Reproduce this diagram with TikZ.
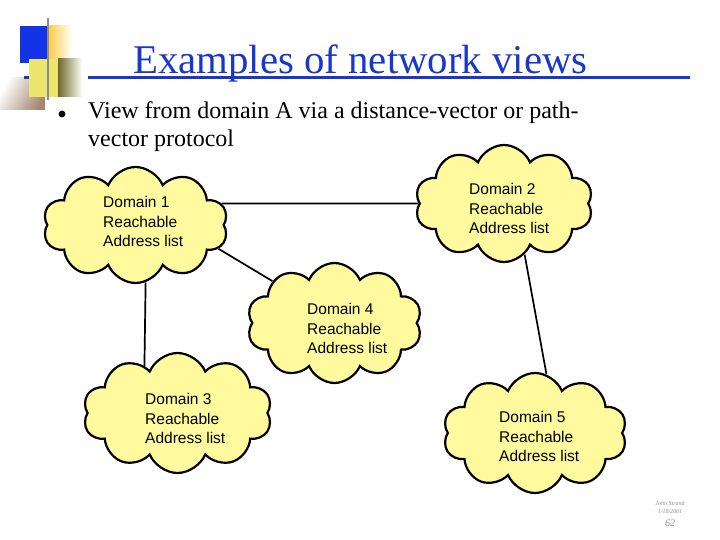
\documentclass[tikz,border=0pt]{standalone}
\usepackage{fontspec}
\setmainfont{Liberation Serif}
\newfontfamily\arialf{Liberation Sans}
\usetikzlibrary{shapes.symbols}
\definecolor{cloudfill}{RGB}{255,250,158}
\definecolor{titleblue}{RGB}{25,55,205}
\definecolor{decoblue}{RGB}{20,50,230}
\definecolor{decoyellow}{RGB}{235,230,110}
\definecolor{decoorange}{RGB}{255,200,60}
\definecolor{decoolive}{RGB}{110,105,40}
\definecolor{decobrown}{RGB}{165,135,115}
\pgfdeclarelayer{bg}
\pgfsetlayers{bg,main}
\begin{document}
\begin{tikzpicture}[x=1pt,y=-1pt,
  domaincloud/.style={cloud, cloud puffs=10, cloud puff arc=135, cloud ignores aspect,
    draw=black, line width=2.2pt, fill=cloudfill, inner sep=0pt},
  cloudtext/.style={anchor=base west, inner sep=0pt, align=left,
    font=\arialf\fontsize{15.5}{19.5}\selectfont},
  link/.style={draw=black, line width=1.7pt},
  bodytext/.style={anchor=base west, inner sep=0pt, font=\fontsize{24}{28}\selectfont},
  foot/.style={inner sep=0pt, text=black!45, font=\itshape\fontsize{6}{7}\selectfont}]
\useasboundingbox (0,0) rectangle (720,540);

% decoration
\shade[left color=white, right color=decobrown, shading angle=60] (0,78) rectangle (45,110);
\fill[decoblue] (20,26) rectangle (47,63);
\shade[left color=decoorange, right color=white] (47,26) rectangle (72,60);
\fill[decoyellow] (29,59) rectangle (58,97);
\shade[left color=decoolive, right color=white] (58,59) rectangle (82,97);
\fill[titleblue] (24,76) rectangle (29,79);
\draw[black!45, line width=1.6pt] (48,18) -- (48,100);

% title
\node[anchor=base west, inner sep=0pt, text=titleblue, font=\fontsize{40.8}{48}\selectfont] (title) at (133,74) {Examples of network views};
\draw[titleblue, line width=3.2pt] (88,77.5) -- (690,77.5);

% bullet
\fill[black] (62,114) circle (3.4);
\node[bodytext] (line1) at (88,119) {View from domain A via a distance-vector or path-};
\node[bodytext] (line2) at (88,147) {vector protocol};

% clouds
\node[domaincloud, minimum width=185pt, minimum height=116pt] (c1) at (135.5,225) {};
\node[domaincloud, minimum width=178pt, minimum height=117pt] (c2) at (504,203.5) {};
\node[domaincloud, minimum width=175pt, minimum height=120pt] (c4) at (334.5,323) {};
\node[domaincloud, minimum width=189pt, minimum height=120pt] (c3) at (177.5,413) {};
\node[domaincloud, minimum width=184pt, minimum height=120pt] (c5) at (535,433) {};

\node[cloudtext] (t1) at (103,246.5) {Domain 1\\Reachable\\Address list};
\node[cloudtext] (t2) at (469,233.5) {Domain 2\\Reachable\\Address list};
\node[cloudtext] (t4) at (307,353.5) {Domain 4\\Reachable\\Address list};
\node[cloudtext] (t3) at (145,443.5) {Domain 3\\Reachable\\Address list};
\node[cloudtext] (t5) at (499,461.5) {Domain 5\\Reachable\\Address list};

% connectors
\begin{pgfonlayer}{bg}
\draw[link] (c1.14) -- (c2.180);
\draw[link] (c1.-16) -- (c4.146);
\draw[link] (c1.-80) -- (c3.125);
\draw[link] (c2.-68) -- (c5.79);
\end{pgfonlayer}

% footer
\node[foot] (f1) at (670,503) {John Strand};
\node[foot] (f2) at (670,512) {1/18/2001};
\node[inner sep=0pt, text=black!45, font=\itshape\fontsize{10}{12}\selectfont] (f3) at (670,523) {62};
\end{tikzpicture}
\end{document}
